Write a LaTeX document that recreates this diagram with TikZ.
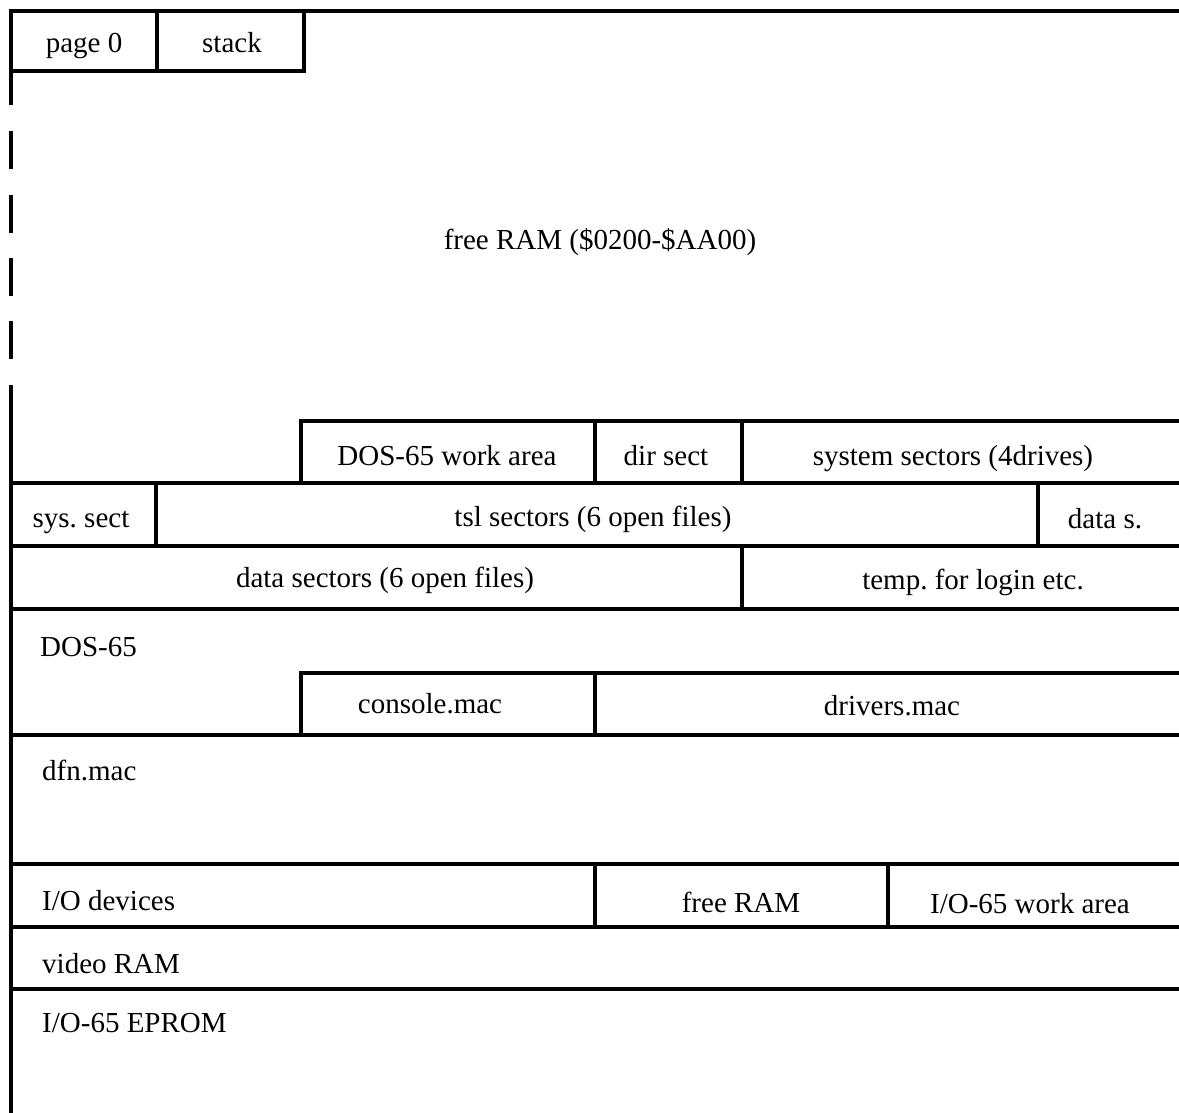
\documentclass[tikz,border=0pt]{standalone}
\usepackage{fontspec}
\setmainfont{Liberation Serif}
\frenchspacing

\begin{document}
\begin{tikzpicture}[x=1pt, y=-1pt,
    wall/.style={line width=3.4pt, line cap=rect},
    lbl/.style={font=\fontsize{29}{32}\selectfont, inner sep=0pt, anchor=base},
    lftlbl/.style={lbl, anchor=base west}]
    \useasboundingbox (0,0) rectangle (1179,1113);

    % TOP: page 0 and stack
    \draw[wall] (11,11) -- (1185,11);
    \draw[wall] (11,71) -- (304,71);
    \draw[wall] (157,11) -- (157,71);
    \draw[wall] (304,11) -- (304,71);
    \node[lbl] (page0) at (84,53) {page 0};
    \node[lbl] (stack) at (232,53) {stack};

    % Left edge, broken through the free RAM
    \draw[wall] (11,11) -- (11,103);
    \foreach \y in {133,197,260,323}
        \draw[wall] (11,\y) -- (11,\y+34);
    \draw[wall] (11,387) -- (11,1125);
    \node[lbl] (freeram) at (600,250) {free RAM (\$0200-\$AA00)};

    % Full width boundaries
    \foreach \y in {483,546,609,735,864,927,989}
        \draw[wall] (11,\y) -- (1185,\y);

    % DOS-65 buffers
    \draw[wall] (301,421) -- (1185,421);
    \foreach \x in {301,595,742}
        \draw[wall] (\x,421) -- (\x,483);
    \node[lbl] (work) at (447,465) {DOS-65 work area};
    \node[lbl] (dirsect) at (666,465) {dir sect};
    \node[lbl] (syssectors) at (953,465) {system sectors (4drives)};

    \foreach \x in {156,1038}
        \draw[wall] (\x,483) -- (\x,546);
    \node[lbl] (syssect) at (81,527) {sys. sect};
    \node[lbl] (tsl) at (593,526) {tsl sectors (6 open files)};
    \node[lbl] (datas) at (1105,528) {data s.};

    \draw[wall] (742,546) -- (742,609);
    \node[lbl] (datasectors) at (385,587) {data sectors (6 open files)};
    \node[lbl] (temp) at (973,589) {temp. for login etc.};

    % DOS-65 code
    \node[lftlbl] (dos) at (40,656) {DOS-65};
    \draw[wall] (301,673) -- (1185,673);
    \foreach \x in {301,595}
        \draw[wall] (\x,673) -- (\x,735);
    \node[lbl] (console) at (430,713) {console.mac};
    \node[lbl] (drivers) at (892,715) {drivers.mac};
    \node[lftlbl] (dfn) at (42,780) {dfn.mac};

    % I/O area
    \foreach \x in {595,888}
        \draw[wall] (\x,864) -- (\x,927);
    \node[lftlbl] (iodev) at (42,910) {I/O devices};
    \node[lbl] (iofree) at (741,912) {free RAM};
    \node[lbl] (iowork) at (1030,913) {I/O-65 work area};
    \node[lftlbl] (video) at (42,973) {video RAM};
    \node[lftlbl] (eprom) at (42,1032) {I/O-65 EPROM};
\end{tikzpicture}
\end{document}
